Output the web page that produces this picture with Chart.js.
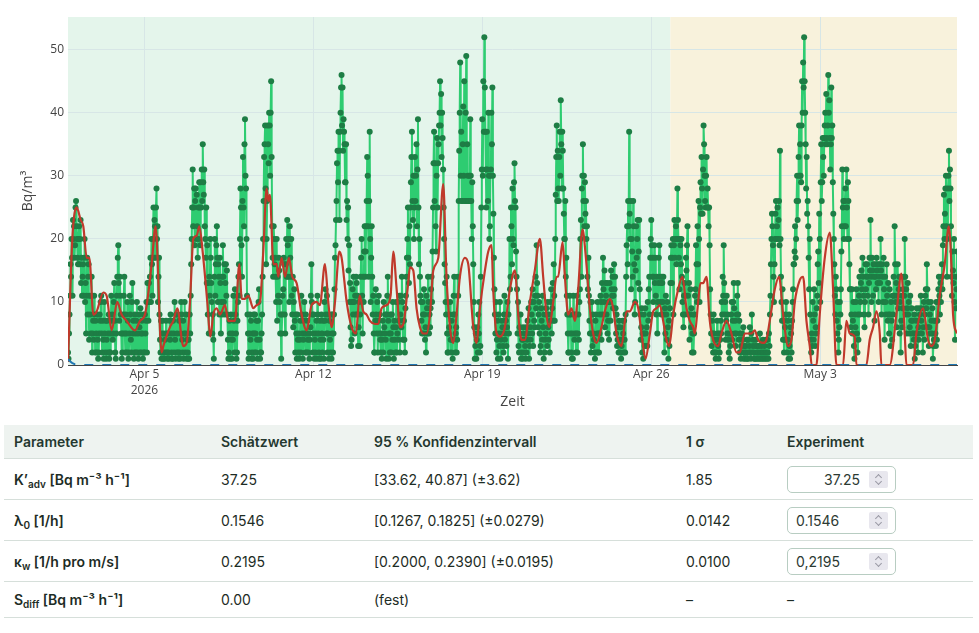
<!DOCTYPE html>
<html lang="de">
<head>
<meta charset="utf-8">
<script src="https://cdn.jsdelivr.net/npm/chart.js@4.4.1/dist/chart.umd.min.js"></script>
<style>
  body { margin: 0; background: #fff; font-family: Inter, "Noto Sans", sans-serif; }
  #plot { position: absolute; left: 0; top: 0; width: 979px; height: 420px; }
  table { position: absolute; left: 4px; top: 425px; width: 969px; border-collapse: collapse;
          font-size: 14px; color: #1d2c25; table-layout: fixed; }
  th { background: #eef3f0; color: #24382f; font-weight: 600; text-align: left;
       height: 33px; padding: 0 10px; border-bottom: 1px solid #d6dfda; }
  td { padding: 0 10px; height: 40px; border-bottom: 1px solid #d6dfda; }
  tr.last td { height: 35px; }
  td.p { font-weight: 600; }
  sub { font-size: 10px; vertical-align: -3px; line-height: 0; }
  .inp { position: relative; box-sizing: border-box; width: 109px; height: 27px;
         border: 1px solid #b8cdc2; border-radius: 5px; line-height: 25px; padding: 0 8px; color: #2c3a33; }
  .inp.r { text-align: right; padding-right: 35px; }
  .spin { position: absolute; right: 7px; top: 4px; width: 19px; height: 17px; background: #e8e7ee; border-radius: 2px; }
  .spin::before, .spin::after { content: ""; position: absolute; left: 7px; width: 4px; height: 4px;
         border-left: 1px solid #9a9aa6; border-top: 1px solid #9a9aa6; }
  .spin::before { top: 4px; transform: rotate(45deg); }
  .spin::after { top: 8px; transform: rotate(225deg); }
</style>
</head>
<body>
<div id="plot"><canvas id="radon-chart"></canvas></div>

<table>
  <colgroup><col style="width:207px"><col style="width:153px"><col style="width:312px"><col style="width:101px"><col style="width:196px"></colgroup>
  <thead>
    <tr><th>Parameter</th><th>Schätzwert</th><th>95 % Konfidenzintervall</th><th>1 σ</th><th>Experiment</th></tr>
  </thead>
  <tbody>
    <tr><td class="p">K’<sub>adv</sub> [Bq m⁻³ h⁻¹]</td><td>37.25</td><td>[33.62, 40.87] (±3.62)</td><td>1.85</td>
        <td><div class="inp r">37.25<span class="spin"></span></div></td></tr>
    <tr><td class="p">λ<sub>0</sub> [1/h]</td><td>0.1546</td><td>[0.1267, 0.1825] (±0.0279)</td><td>0.0142</td>
        <td><div class="inp">0.1546<span class="spin"></span></div></td></tr>
    <tr><td class="p">κ<sub>w</sub> [1/h pro m/s]</td><td>0.2195</td><td>[0.2000, 0.2390] (±0.0195)</td><td>0.0100</td>
        <td><div class="inp">0,2195<span class="spin"></span></div></td></tr>
    <tr class="last"><td class="p">S<sub>diff</sub> [Bq m⁻³ h⁻¹]</td><td>0.00</td><td>(fest)</td><td>–</td><td>–</td></tr>
  </tbody>
</table>

<script>
// time axis in hours since Apr 1 00:00
var start_hour = 20;   // first sample, Apr 1 20:00

// measured radon concentration, Bq/m3, on the full hour
var radon_values = [
  2, 5, 11, 14, 17, 23, 22, 19, 26, 20, 16, 22, 20, 13, 11, 16, 17, 10, 5, 17, 14, 4, 8, 11,
  2, 7, 11, 2, 5, 8, 1, 5, 7, 11, 2, 4, 10, 2, 1, 7, 5, 1, 2, 11, 8, 5, 13, 2,
  5, 14, 19, 7, 11, 5, 2, 8, 14, 2, 5, 10, 1, 5, 8, 2, 13, 7, 2, 5, 7, 2, 1, 6,
  9, 2, 5, 8, 2, 5, 10, 13, 7, 10, 17, 20, 11, 25, 23, 17, 28, 22, 14, 8, 2, 1, 7, 2,
  1, 2, 5, 1, 2, 7, 8, 2, 1, 5, 10, 1, 2, 8, 1, 2, 5, 8, 2, 1, 10, 5, 1, 2,
  4, 8, 11, 20, 31, 25, 19, 28, 27, 17, 20, 25, 29, 31, 35, 27, 22, 17, 13, 8, 5, 11, 17, 10,
  8, 1, 20, 16, 22, 10, 14, 17, 5, 14, 19, 10, 8, 16, 15, 4, 2, 5, 8, 1, 4, 7, 12, 5,
  2, 10, 16, 20, 25, 14, 33, 22, 39, 28, 11, 5, 2, 8, 7, 2, 1, 5, 8, 2, 4, 7, 12, 1,
  2, 8, 20, 33, 38, 16, 26, 35, 40, 30, 45, 22, 14, 20, 17, 10, 7, 11, 15, 5, 1, 8, 12, 16,
  5, 20, 23, 14, 10, 17, 20, 8, 6, 12, 2, 5, 8, 2, 1, 7, 11, 5, 4, 10, 2, 5, 7, 2,
  1, 6, 16, 8, 5, 1, 2, 7, 11, 5, 1, 4, 8, 2, 4, 10, 12, 5, 2, 8, 7, 2, 1, 8,
  5, 12, 19, 26, 34, 37, 23, 40, 46, 44, 39, 35, 29, 23, 20, 15, 10, 6, 4, 12, 14, 5, 8, 13,
  11, 6, 3, 14, 20, 5, 10, 22, 18, 26, 30, 14, 37, 10, 22, 8, 5, 2, 12, 5, 2, 11, 8, 2,
  1, 7, 10, 5, 4, 8, 14, 1, 2, 5, 8, 10, 1, 4, 6, 2, 10, 7, 2, 11, 14, 4, 7, 2,
  11, 17, 25, 13, 16, 29, 37, 23, 20, 33, 30, 22, 39, 16, 14, 10, 5, 8, 12, 4, 2, 9, 14, 5,
  6, 12, 10, 25, 37, 32, 18, 36, 32, 38, 45, 43, 40, 31, 20, 13, 8, 5, 2, 6, 10, 2, 4, 8,
  14, 2, 6, 4, 11, 34, 48, 37, 26, 41, 45, 26, 49, 35, 26, 30, 39, 26, 29, 16, 6, 3, 1, 6,
  8, 10, 3, 25, 39, 45, 52, 37, 25, 31, 40, 20, 30, 40, 44, 24, 12, 5, 2, 7, 8, 3, 1, 5,
  6, 2, 11, 5, 3, 10, 8, 20, 14, 22, 28, 19, 32, 25, 14, 5, 3, 6, 8, 2, 1, 4, 5, 1,
  2, 7, 9, 3, 4, 8, 12, 10, 6, 14, 19, 11, 8, 5, 3, 7, 11, 1, 2, 5, 8, 10, 4, 2,
  10, 5, 13, 16, 7, 27, 38, 34, 26, 37, 42, 28, 34, 24, 20, 14, 11, 5, 2, 11, 8, 1, 1, 8,
  5, 2, 11, 5, 4, 12, 23, 28, 35, 30, 29, 26, 22, 12, 11, 5, 2, 10, 8, 4, 1, 8, 5, 2,
  2, 8, 10, 13, 17, 10, 6, 11, 13, 7, 4, 10, 15, 11, 9, 16, 14, 5, 3, 6, 7, 2, 1, 4,
  5, 7, 2, 14, 22, 26, 37, 20, 12, 18, 26, 16, 10, 22, 20, 13, 23, 8, 6, 2, 1, 5, 9, 3,
  3, 7, 14, 17, 23, 14, 10, 19, 17, 8, 5, 13, 19, 10, 8, 13, 14, 2, 5, 8, 10, 1, 3, 13,
  19, 17, 8, 23, 20, 16, 28, 20, 12, 19, 20, 10, 6, 13, 11, 15, 22, 8, 4, 12, 9, 5, 2, 8,
  12, 16, 22, 26, 10, 29, 33, 24, 38, 30, 25, 33, 28, 22, 19, 8, 3, 5, 8, 2, 1, 4, 5, 1,
  2, 7, 10, 14, 19, 8, 4, 11, 8, 2, 1, 5, 10, 7, 13, 5, 3, 8, 13, 4, 2, 1, 5, 2,
  1, 2, 3, 4, 1, 2, 6, 1, 8, 3, 2, 1, 4, 2, 1, 3, 5, 1, 2, 4, 1, 2, 4, 1,
  2, 5, 8, 16, 24, 19, 10, 20, 26, 22, 20, 26, 34, 14, 7, 4, 2, 6, 10, 2, 4, 8, 1, 5,
  7, 12, 16, 22, 20, 30, 26, 38, 35, 29, 45, 48, 52, 40, 28, 24, 22, 12, 8, 2, 3, 7, 12, 3,
  5, 11, 18, 24, 10, 35, 29, 33, 36, 40, 43, 35, 46, 42, 31, 44, 38, 24, 16, 8, 12, 5, 2, 6,
  8, 18, 31, 26, 22, 28, 31, 20, 26, 16, 12, 8, 5, 10, 1, 6, 12, 2, 4, 14, 10, 15, 17, 11,
  6, 16, 14, 11, 8, 17, 23, 10, 15, 16, 7, 14, 17, 13, 10, 16, 20, 8, 14, 17, 4, 10, 16, 7,
  8, 12, 3, 7, 11, 14, 22, 10, 6, 16, 12, 5, 2, 11, 9, 14, 20, 8, 5, 13, 10, 6, 3, 9,
  7, 4, 1, 5, 9, 2, 4, 8, 11, 5, 2, 10, 8, 12, 16, 6, 3, 8, 10, 5, 1, 4, 7, 3,
  4, 10, 14, 8, 10, 16, 19, 27, 24, 30, 14, 28, 34, 31, 22, 11, 15, 20, 4, 9, 18
];

// readings on the half hour (between the hourly ones above)
var radon_half_values = [
  1, 8, 16, 20, 11, 20, 17, 25, 22, 17, 20, 16, 23, 17, 14, 11, 20, 13, 11, 8, 16, 11, 5, 14,
  5, 4, 8, 7, 2, 4, 2, 8, 10, 5, 7, 1, 5, 7, 4, 2, 8, 2, 5, 7, 4, 10, 7, 1,
  11, 17, 13, 14, 8, 1, 5, 11, 5, 8, 2, 7, 2, 11, 4, 10, 5, 1, 8, 2, 10, 5, 8, 2,
  5, 7, 1, 2, 8, 7, 2, 10, 13, 14, 10, 16, 20, 17, 22, 25, 20, 10, 17, 4, 7, 5, 1, 5,
  4, 7, 2, 5, 1, 4, 5, 1, 7, 2, 4, 8, 5, 2, 7, 1, 10, 4, 7, 5, 2, 8, 4, 1,
  1, 5, 16, 25, 22, 28, 26, 20, 22, 25, 29, 19, 25, 26, 29, 31, 20, 25, 19, 13, 14, 20, 13, 5,
  4, 14, 11, 19, 17, 16, 8, 13, 10, 8, 14, 16, 13, 11, 8, 1, 7, 1, 4, 5, 11, 2, 8, 1,
  7, 14, 11, 28, 19, 26, 25, 35, 30, 20, 8, 1, 5, 4, 1, 5, 8, 2, 5, 7, 1, 10, 4, 2,
  5, 14, 26, 35, 28, 20, 38, 32, 38, 40, 33, 17, 22, 16, 14, 20, 14, 17, 10, 8, 5, 11, 17, 8,
  16, 14, 19, 20, 22, 14, 11, 14, 10, 7, 8, 1, 4, 5, 4, 2, 8, 1, 7, 5, 8, 2, 4, 5,
  4, 11, 10, 2, 8, 4, 5, 1, 8, 2, 7, 1, 5, 7, 1, 7, 8, 11, 5, 1, 4, 8, 5, 2,
  8, 17, 23, 32, 29, 34, 37, 44, 38, 34, 37, 29, 35, 26, 25, 19, 13, 3, 10, 8, 10, 11, 14, 8,
  3, 10, 8, 17, 11, 14, 18, 14, 22, 33, 22, 26, 20, 17, 14, 11, 2, 7, 8, 10, 7, 5, 4, 5,
  4, 2, 6, 8, 1, 11, 7, 5, 8, 2, 4, 6, 7, 2, 10, 5, 4, 11, 8, 6, 10, 7, 4, 9,
  14, 20, 17, 22, 25, 33, 26, 30, 25, 26, 35, 31, 25, 20, 11, 7, 10, 5, 8, 6, 11, 5, 10, 8,
  9, 14, 18, 32, 26, 22, 30, 25, 35, 40, 38, 33, 36, 25, 16, 10, 14, 2, 5, 8, 4, 7, 1, 11,
  8, 5, 2, 14, 26, 40, 30, 26, 35, 30, 26, 40, 26, 30, 26, 26, 30, 20, 22, 10, 1, 5, 4, 2,
  5, 2, 14, 31, 30, 37, 44, 31, 37, 26, 30, 22, 31, 35, 30, 17, 8, 10, 4, 1, 5, 10, 4, 7,
  3, 8, 4, 7, 6, 1, 5, 12, 25, 16, 20, 29, 26, 18, 12, 10, 2, 5, 1, 4, 6, 2, 3, 6,
  4, 5, 1, 6, 10, 5, 3, 7, 11, 9, 13, 6, 10, 2, 9, 4, 6, 8, 4, 9, 3, 6, 8, 7,
  12, 9, 7, 11, 20, 33, 26, 28, 33, 30, 35, 37, 28, 20, 26, 17, 8, 2, 8, 5, 2, 5, 11, 4,
  8, 5, 2, 8, 10, 20, 14, 30, 26, 22, 24, 20, 14, 17, 7, 10, 5, 3, 5, 2, 7, 2, 10, 5,
  5, 11, 4, 8, 12, 15, 13, 8, 5, 10, 13, 7, 12, 14, 11, 12, 9, 8, 4, 2, 4, 6, 3, 7,
  2, 4, 8, 19, 16, 22, 24, 26, 20, 14, 22, 8, 15, 17, 23, 18, 12, 4, 9, 5, 8, 3, 5, 6,
  10, 12, 8, 20, 19, 17, 14, 13, 11, 14, 10, 17, 14, 13, 14, 10, 8, 9, 11, 4, 6, 7, 9, 17,
  13, 20, 19, 17, 22, 20, 23, 17, 20, 16, 14, 8, 11, 8, 17, 19, 11, 13, 8, 6, 2, 8, 5, 11,
  19, 10, 16, 20, 25, 24, 28, 31, 35, 26, 30, 25, 25, 25, 12, 5, 7, 2, 5, 4, 2, 7, 3, 5,
  4, 5, 8, 11, 13, 10, 7, 5, 4, 5, 3, 8, 4, 10, 9, 7, 5, 11, 8, 7, 5, 3, 4, 6,
  3, 1, 2, 1, 4, 3, 2, 5, 2, 4, 1, 3, 1, 3, 2, 1, 2, 3, 1, 2, 3, 1, 2, 4,
  1, 3, 11, 20, 22, 14, 16, 24, 20, 25, 23, 19, 20, 10, 12, 7, 4, 8, 4, 7, 1, 3, 6, 2,
  10, 16, 18, 17, 26, 23, 33, 30, 30, 38, 40, 44, 45, 35, 33, 26, 17, 20, 4, 5, 10, 4, 8, 6,
  9, 16, 13, 20, 29, 26, 36, 30, 38, 35, 36, 38, 40, 36, 35, 36, 29, 20, 11, 14, 7, 10, 4, 10,
  12, 22, 25, 20, 26, 22, 25, 29, 20, 12, 6, 12, 7, 3, 8, 10, 5, 8, 11, 8, 13, 12, 14, 8,
  10, 12, 16, 14, 13, 15, 14, 17, 11, 14, 16, 12, 15, 16, 14, 13, 15, 16, 10, 12, 14, 8, 11, 13,
  5, 8, 10, 4, 8, 11, 16, 13, 11, 9, 14, 10, 7, 6, 12, 11, 14, 12, 9, 8, 5, 11, 7, 5,
  5, 8, 3, 7, 5, 6, 9, 5, 7, 9, 6, 4, 11, 9, 12, 10, 6, 5, 7, 9, 3, 7, 5, 10,
  7, 12, 11, 13, 14, 12, 22, 20, 28, 22, 20, 30, 26, 28, 14, 18, 13, 10, 14, 12
];

// model curve (red), hours and Bq/m3
var model_hours = [
  20, 24.3, 28.6, 32.6, 35.2, 38.6, 41.2, 45.2, 48.5, 55.1, 58.4, 63.4, 69, 73.3, 78.3, 86.6, 91.6, 96.5,
  103.2, 107.1, 113.1, 114.8, 121.4, 124.7, 128.7, 134.6, 138, 141.3, 144.6, 147.9, 150.6, 153.9, 158.5,
  161.5, 164.5, 167.8, 171.1, 176.1, 179.4, 186, 190.4, 192.7, 196, 199.3, 204.3, 207.6, 210.9, 214.2,
  217.5, 219.2, 220.8, 224.2, 227.5, 229.1, 232.4, 235.8, 239.7, 243, 247.3, 252.3, 257.3, 262.3, 267.2,
  270.5, 275.5, 278.8, 282.1, 285.5, 289.8, 292.1, 297.1, 302, 306.3, 310, 313.6, 316.9, 320.2, 325.2,
  328.5, 331.8, 336.8, 340.8, 343.4, 346.8, 350.1, 353.4, 358.3, 360, 363.3, 366.6, 370, 373.3, 376.6,
  379.9, 383.2, 388.2, 393.1, 396.4, 399.8, 403.1, 406.4, 409.7, 414.7, 418, 423, 426.3, 429.6, 434.6,
  437.9, 441.2, 442.8, 446.2, 449.5, 454.4, 459.4, 464.4, 467.7, 471, 474.3, 479.3, 484.2, 489.2, 492.5,
  495.8, 498.5, 502.5, 505.8, 507.4, 511.8, 514.1, 517.4, 520.7, 524, 527.3, 531.6, 535, 538.9, 542.2,
  545.5, 550.5, 553.8, 558.8, 562.1, 565.4, 570.4, 575.4, 578.7, 583.7, 587, 590.3, 594.3, 598.6, 601.9,
  605.2, 608.5, 611.8, 615.1, 617.8, 621.8, 626.7, 631, 635, 638.3, 641.6, 643.3, 646.6, 648.9, 651.6,
  654.9, 658.2, 661.5, 666.5, 669.8, 674.8, 679.7, 684.7, 688, 693, 696.3, 699.6, 702.9, 706.2, 711.2,
  714.5, 717.8, 722.8, 727.1, 731.1, 736.1, 739.4, 742.7, 747.7, 751, 754.3, 757.6, 759.5, 764.2, 767.5,
  772.5, 777.5, 780.8, 784.1, 790.7, 794, 797.4, 802.3, 804, 813.9, 817.2, 820.6, 823.9, 827.2, 828.8,
  837.1, 843.7, 848.7, 852, 853.7, 860.3, 863.6, 870.3, 875.2, 878.5, 881.9, 886.8, 891.8, 895.8, 898.4,
  900.1, 903.7
];
var model_values = [
  0.5, 20, 25, 23, 22, 17, 17, 8, 8.5, 11.5, 11, 5.5, 10, 8, 7, 5.5, 7, 8,
  16, 22, 2, 3, 6, 7, 9, 3, 3.5, 10, 20, 20.5, 22, 18, 10,
  4.5, 8, 9, 8, 9.5, 7, 7, 16, 10.5, 10.5, 11, 9, 9.5, 10, 18,
  28, 26, 27, 16, 16, 14, 17, 14, 17, 14, 13, 8, 5.5, 9.5, 10,
  9.5, 16, 10, 6, 10, 18, 17, 10, 6, 5, 11, 8.5, 8, 7, 6.5,
  6.5, 9, 9.5, 11, 18, 12, 6, 6.5, 13, 15.5, 15, 9, 6, 5, 5,
  8, 15, 17, 28.7, 14, 6, 3.5, 8, 14, 17, 16, 6, 3.5, 9, 15,
  18, 19, 12, 5, 4.5, 6, 12, 15, 8, 4, 4, 10, 15, 20, 14,
  8, 6, 10, 14, 14, 19.5, 14, 8, 9, 7, 12, 21.5, 17, 9, 5,
  3.5, 6, 8.5, 10.5, 9, 5, 3, 8.5, 8.5, 10, 9, 5, 1, 5, 8.5,
  9, 9.5, 7, 4, 3, 8, 12, 14, 9, 7, 6, 5, 10, 13, 13,
  14, 7, 4, 3, 5, 7, 5, 2, 2, 5, 5, 5, 5.5, 4, 3.5,
  4, 7, 12, 14, 8, 3, 4, 10, 13.5, 14, 7, 3, 0, 0, 8,
  17, 21, 12, 0, 0, 7, 5, 4.5, 0, 0, 4, 6, 8.5, 5, 0,
  0, 8, 14.5, 5, 0, 0, 5, 9, 4, 3, 4, 11, 16, 22, 16,
  8, 5
];

// baseline term (blue, dashed)
var base_hours = [20, 22, 24, 27, 30, 904];
var base_values = [0.9, 0.6, 0.35, 0.1, 0, 0];

var x_tick_hours = [96, 264, 432, 600, 768];
var x_tick_labels = [['Apr 5', '2026'], 'Apr 12', 'Apr 19', 'Apr 26', 'May 3'];
var y_tick_values = [0, 10, 20, 30, 40, 50];
var phase_split_hour = 619;  // end of first measurement phase
var x_min = 20, x_max = 904, y_max = 55.2;

var tick_font = { family: '"Open Sans", "DejaVu Sans", sans-serif', size: 12, lineHeight: 1.33 };

// shaded phases behind the data
var phaseBands = {
  id: 'phaseBands',
  beforeDraw: function (chart) {
    var ctx = chart.ctx, a = chart.chartArea;
    var split = chart.scales.x.getPixelForValue(phase_split_hour);
    ctx.save();
    ctx.fillStyle = '#e4f5eb';
    ctx.fillRect(a.left, a.top, split - a.left, a.bottom - a.top);
    ctx.fillStyle = '#f8f2dc';
    ctx.fillRect(split, a.top, a.right - split, a.bottom - a.top);
    ctx.restore();
  }
};

var axisTitles = {
  id: 'axisTitles',
  afterDraw: function (chart) {
    var ctx = chart.ctx, a = chart.chartArea;
    ctx.save();
    ctx.fillStyle = '#444';
    ctx.font = '14px "Open Sans", "DejaVu Sans", sans-serif';
    ctx.textAlign = 'center';
    ctx.textBaseline = 'middle';
    ctx.fillText('Zeit', (a.left + a.right) / 2, 402);
    ctx.translate(28, (a.top + a.bottom) / 2);
    ctx.rotate(-Math.PI / 2);
    ctx.fillText('Bq/m³', 0, 0);
    ctx.restore();
  }
};

// merge hourly and half-hourly readings in time order
var radon_points = [];
for (var i = 0; i < radon_values.length; i++) {
  radon_points.push({ x: start_hour + i, y: radon_values[i] });
  if (i < radon_half_values.length)
    radon_points.push({ x: start_hour + i + 0.5, y: radon_half_values[i] });
}
var model_points = model_hours.map(function (h, i) { return { x: h, y: model_values[i] }; });
var base_points = base_hours.map(function (h, i) { return { x: h, y: base_values[i] }; });

var radon_chart = new Chart(document.getElementById('radon-chart'), {
  type: 'line',
  data: {
    datasets: [{
        data: base_points,
        borderColor: '#1f77b4',
        borderWidth: 2,
        borderDash: [9, 9],
        pointRadius: 0,
        fill: false,
        order: 1
      }, {
        data: model_points,
        borderColor: '#c0392b',
        borderWidth: 2.2,
        pointRadius: 0,
        cubicInterpolationMode: 'monotone',
        fill: false,
        order: 2
      }, {
        data: radon_points,
        borderColor: '#2ecc71',
        borderWidth: 2,
        pointRadius: 3,
        pointBorderWidth: 0,
        pointBackgroundColor: '#1e7d45',
        fill: false,
        order: 3
      }
    ]
  },
  options: {
    animation: false,
    responsive: true,
    maintainAspectRatio: false,
    layout: { padding: { top: 17, right: 22, left: 0, bottom: 0 } },
    plugins: { legend: { display: false }, tooltip: { enabled: false } },
    scales: {
      x: {
        type: 'linear',
        min: x_min,
        max: x_max,
        afterBuildTicks: function (s) { s.ticks = x_tick_hours.map(function (v) { return { value: v }; }); },
        afterFit: function (s) { s.height = 55; },
        grid: { color: '#d7e6e6', drawTicks: false },
        border: { display: true, color: '#444', width: 1 },
        ticks: {
          padding: 2, maxRotation: 0, autoSkip: false, color: '#444', font: tick_font,
          callback: function (v, i) { return x_tick_labels[i]; }
        }
      },
      y: {
        min: 0,
        max: y_max,
        afterBuildTicks: function (s) { s.ticks = y_tick_values.map(function (v) { return { value: v }; }); },
        afterFit: function (s) { s.width = 68; },
        grid: { color: '#d7e6e6', drawTicks: false },
        border: { display: false },
        ticks: { padding: 4, color: '#444', font: tick_font }
      }
    }
  },
  plugins: [phaseBands, axisTitles]
});
</script>
</body>
</html>
